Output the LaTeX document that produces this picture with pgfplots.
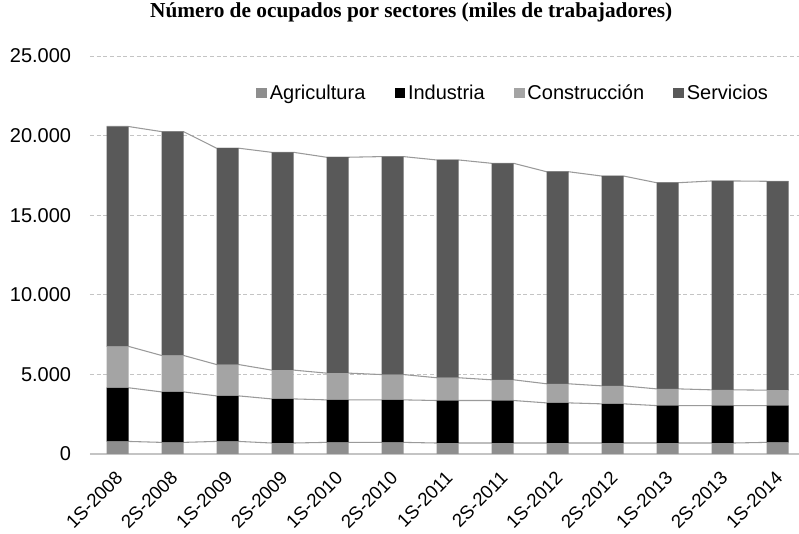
\documentclass[border=0pt]{standalone}
\usepackage{fontspec}
\setmainfont{Liberation Sans}
\newfontfamily\titlefont{Liberation Serif}
\usepackage{pgfplots}
\pgfplotsset{compat=1.18}
\usepackage{pgfplotstable}

\definecolor{agri}{HTML}{8E8E8E}
\definecolor{indu}{HTML}{000000}
\definecolor{cons}{HTML}{A4A4A4}
\definecolor{serv}{HTML}{595959}
\definecolor{serieslines}{HTML}{9A9A9A}
\definecolor{gridgray}{HTML}{C4C4C4}

% ocupados por sector (miles), un semestre por fila
\pgfplotstableread{
x agr ind con ser
0  790 3370 2600 13810
1  730 3170 2290 14060
2  790 2860 1970 13590
3  690 2770 1810 13680
4  730 2670 1680 13560
5  730 2670 1590 13690
6  690 2670 1430 13680
7  690 2670 1300 13600
8  690 2520 1200 13320
9  690 2460 1130 13180
10 690 2350 1050 12950
11 690 2350  990 13120
12 730 2310  970 13120
}\sectores

% mismos valores en los bordes de cada barra, para las lineas de serie
\pgfplotstableread{
x agr ind con ser
-0.2 790 3370 2600 13810
0.2  790 3370 2600 13810
0.8  730 3170 2290 14060
1.2  730 3170 2290 14060
1.8  790 2860 1970 13590
2.2  790 2860 1970 13590
2.8  690 2770 1810 13680
3.2  690 2770 1810 13680
3.8  730 2670 1680 13560
4.2  730 2670 1680 13560
4.8  730 2670 1590 13690
5.2  730 2670 1590 13690
5.8  690 2670 1430 13680
6.2  690 2670 1430 13680
6.8  690 2670 1300 13600
7.2  690 2670 1300 13600
7.8  690 2520 1200 13320
8.2  690 2520 1200 13320
8.8  690 2460 1130 13180
9.2  690 2460 1130 13180
9.8  690 2350 1050 12950
10.2 690 2350 1050 12950
10.8 690 2350  990 13120
11.2 690 2350  990 13120
11.8 730 2310  970 13120
12.2 730 2310  970 13120
}\lineas

\pgfplotsset{
  base/.style={
    width=531.75pt, height=298.5pt, scale only axis,
    xmin=-0.5, xmax=12.39, ymin=0, ymax=25000,
  },
}

\begin{document}
\begin{tikzpicture}
\begin{axis}[
    base,
    axis y line*=left,
    axis x line*=bottom,
    x axis line style={draw=gridgray, line width=1.3pt},
    y axis line style={draw=none},
    ymajorgrids,
    grid style={gridgray, dash pattern=on 3pt off 2pt, line width=0.6pt},
    ytick={0,5000,10000,15000,20000,25000},
    scaled y ticks=false,
    /pgf/number format/1000 sep={.},
    /pgf/number format/assume math mode=true,
    yticklabel style={anchor=east, inner sep=0pt, xshift=-14pt},
    xtick={0,...,12},
    xticklabels={1S-2008,2S-2008,1S-2009,2S-2009,1S-2010,2S-2010,1S-2011,
                 2S-2011,1S-2012,2S-2012,1S-2013,2S-2013,1S-2014},
    tick label style={font=\fontsize{15}{18}\selectfont},
    xticklabel style={rotate=45, anchor=east, inner sep=0pt, xshift=-10pt, yshift=-12pt,
      font=\fontsize{14}{16}\selectfont},
    major tick length=0pt,
    ytick style={draw=none}, xtick style={draw=none},
    stack plots=y,
    title={\titlefont\bfseries Número de ocupados por sectores (miles de trabajadores)},
    title style={at={(0.453,1.09)}, anchor=center, font=\fontsize{16}{19}\selectfont},
]
\addplot[serieslines, line width=0.8pt] table[x=x, y=agr] {\lineas};
\addplot[serieslines, line width=0.8pt] table[x=x, y=ind] {\lineas};
\addplot[serieslines, line width=0.8pt] table[x=x, y=con] {\lineas};
\addplot[serieslines, line width=0.8pt] table[x=x, y=ser] {\lineas};
\end{axis}
\begin{axis}[
    base,
    hide axis,
    ybar stacked,
    bar width=0.4,
    every axis plot post/.append style={
      legend image code/.code={\fill[##1] (0pt,-4pt) rectangle (8pt,4pt);}},
    legend columns=4,
    legend style={at={(0.966,0.907)}, anchor=east, draw=none, fill=none,
      font=\fontsize{15}{18}\selectfont,
      nodes={inner sep=2pt},
      /tikz/every even column/.append style={column sep=20pt}},
]
\addplot[fill=agri, draw=none] table[x=x, y=agr] {\sectores};
\addlegendentry{Agricultura}
\addplot[fill=indu, draw=none] table[x=x, y=ind] {\sectores};
\addlegendentry{Industria}
\addplot[fill=cons, draw=none] table[x=x, y=con] {\sectores};
\addlegendentry{Construcción}
\addplot[fill=serv, draw=none] table[x=x, y=ser] {\sectores};
\addlegendentry{Servicios}
\end{axis}
\pgfresetboundingbox
\path (-67.5pt,-60pt) rectangle (531.75pt,340.5pt);
\end{tikzpicture}
\end{document}
